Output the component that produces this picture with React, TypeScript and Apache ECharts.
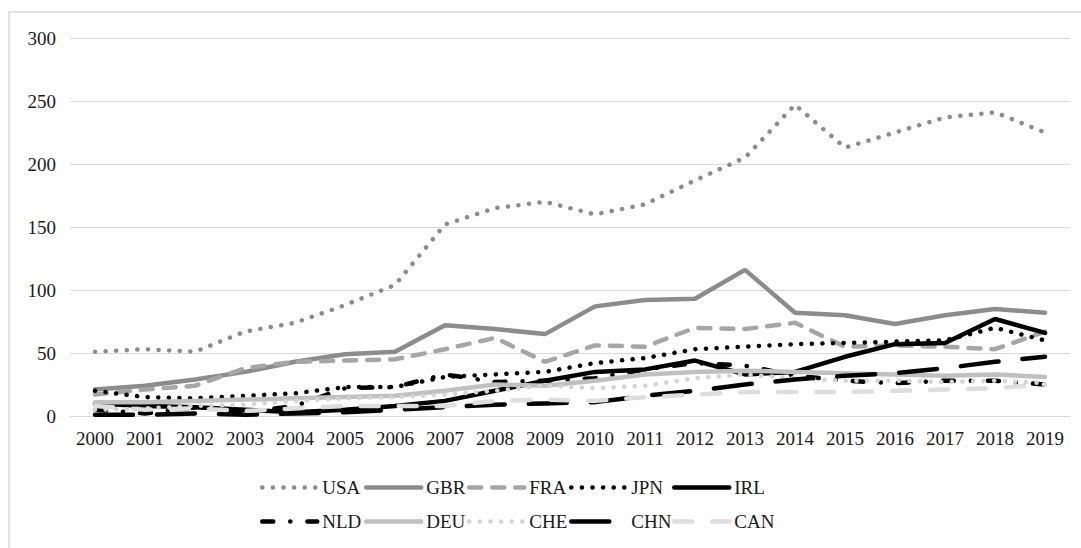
import React, { useEffect, useRef } from "react";
import * as echarts from "echarts";

const years = ["2000","2001","2002","2003","2004","2005","2006","2007","2008","2009","2010","2011","2012","2013","2014","2015","2016","2017","2018","2019"];
const yTicks = [0, 50, 100, 150, 200, 250, 300];

const USA = [51, 53, 51, 67, 74, 88, 104, 152, 165, 170, 160, 168, 187, 205, 247, 213, 225, 237, 241, 225];
const GBR = [21, 24, 29, 35, 43, 49, 51, 72, 69, 65, 87, 92, 93, 116, 82, 80, 73, 80, 85, 82];
const FRA = [17, 21, 24, 38, 43, 44, 45, 53, 62, 43, 56, 55, 70, 69, 74, 55, 56, 55, 53, 67];
const JPN = [20, 15, 14, 16, 18, 23, 23, 31, 33, 35, 42, 46, 53, 55, 57, 58, 59, 60, 70, 60];
const IRL = [10, 8, 7, 5, 3, 5, 8, 12, 20, 28, 35, 37, 44, 33, 35, 47, 57, 58, 77, 66];
const NLD = [5, 2, 7, 3, 8, 22, 23, 33, 27, 28, 30, 37, 42, 40, 32, 28, 26, 28, 28, 25];
const DEU = [11, 11, 12, 13, 14, 15, 16, 20, 25, 24, 28, 33, 35, 36, 35, 34, 33, 32, 33, 31];
const CHE = [5, 6, 8, 9, 12, 14, 15, 17, 20, 24, 22, 24, 30, 33, 30, 28, 28, 27, 28, 26];
const CHN = [1, 1, 2, 1, 2, 3, 5, 7, 9, 10, 11, 16, 20, 25, 29, 32, 34, 38, 43, 47];
const CAN = [8, 5, 6, 4, 6, 8, 8, 8, 12, 13, 12, 15, 17, 19, 19, 19, 20, 21, 22, 25];

const seriesNames = ["USA", "GBR", "FRA", "JPN", "IRL", "NLD", "DEU", "CHE", "CHN", "CAN"];
const seriesValues = [USA, GBR, FRA, JPN, IRL, NLD, DEU, CHE, CHN, CAN];

export default function App() {
  const ref = useRef<HTMLDivElement>(null);
  useEffect(() => {
    if (!ref.current) return;
    const chart = echarts.init(ref.current, null, { renderer: "svg" });
    const font = "serif";
    const styles: any[] = [
      { color: "#8c8c8c", width: 4.5, type: [0.1, 10.5], cap: "round" },
      { color: "#8c8c8c", width: 4.5, type: "solid", cap: "round" },
      { color: "#a6a6a6", width: 4.5, type: [12, 11], cap: "round" },
      { color: "#000000", width: 4.5, type: [0.1, 10.5], cap: "round" },
      { color: "#000000", width: 4.5, type: "solid", cap: "round" },
      { color: "#000000", width: 4.5, type: [11, 17, 0.1, 17], cap: "round" },
      { color: "#c0c0c0", width: 4.5, type: "solid", cap: "round" },
      { color: "#d4d4d4", width: 4.5, type: [0.1, 10.5], cap: "round" },
      { color: "#000000", width: 4.5, type: [38, 24], cap: "round" },
      { color: "#dedede", width: 4.5, type: [18, 20], cap: "round" },
    ];
    const colX = [260, 364, 467, 569, 672];
    const rowY = [478, 512];
    const legends = seriesNames.map((n, i) => ({
      data: [n],
      left: colX[i % 5],
      top: rowY[Math.floor(i / 5)],
      itemWidth: 55,
      itemHeight: 14,
      itemGap: 5,
      padding: 0,
      selectedMode: false,
      lineStyle: { ...styles[i] },
      itemStyle: { opacity: 0 },
      textStyle: { fontFamily: font, fontSize: 19, color: "#1a1a1a" },
    }));
    chart.setOption({
      animation: false,
      backgroundColor: "#ffffff",
      textStyle: { fontFamily: font },
      graphic: [
        {
          type: "rect",
          shape: { x: 9, y: 12, width: 1100, height: 600 },
          style: { fill: "none", stroke: "#d9d9d9", lineWidth: 1.5 },
          silent: true,
        },
      ],
      legend: legends,
      grid: { left: 70, right: 11, top: 38, bottom: 132 },
      xAxis: {
        type: "category",
        data: years,
        boundaryGap: true,
        axisLine: { show: true, lineStyle: { color: "#d9d9d9", width: 1 } },
        axisTick: { show: false },
        axisLabel: { fontFamily: font, fontSize: 19, color: "#1a1a1a", margin: 13, interval: 0 },
      },
      yAxis: {
        type: "value",
        min: yTicks[0],
        max: yTicks[yTicks.length - 1],
        interval: 50,
        axisLine: { show: false },
        axisTick: { show: false },
        splitLine: { lineStyle: { color: "#d9d9d9", width: 1 } },
        axisLabel: { fontFamily: font, fontSize: 19, color: "#1a1a1a", margin: 14 },
      },
      series: seriesNames.map((n, i) => ({
        name: n,
        type: "line",
        data: seriesValues[i],
        symbol: "none",
        lineStyle: styles[i],
        itemStyle: { color: styles[i].color },
        z: 2 + i,
      })),
    });
    return () => chart.dispose();
  }, []);
  return (
    <div
      ref={ref}
      style={{ position: "fixed", left: 0, top: 0, width: 1081, height: 548 }}
    />
  );
}
